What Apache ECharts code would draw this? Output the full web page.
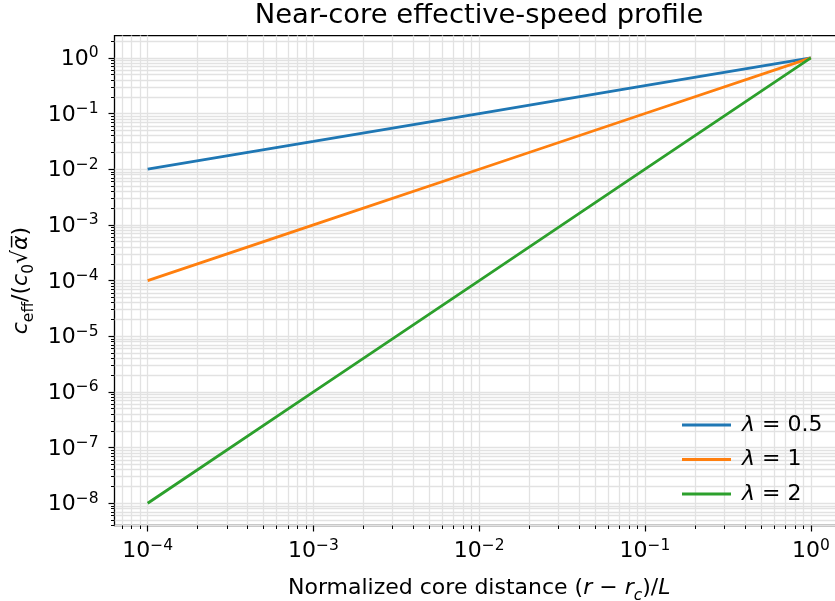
<!DOCTYPE html>
<html><head><meta charset="utf-8">
<script src="https://cdn.jsdelivr.net/npm/echarts@6/dist/echarts.min.js"></script>
<style>html,body{margin:0;padding:0;background:#fff}#c{width:835px;height:601px}</style>
</head><body><div id="c"></div>
<script>
// ---- data ----
const xValues = [1e-4, 1e-3, 1e-2, 1e-1, 1];
const yLambda05 = [1e-2, 3.16e-2, 1e-1, 3.16e-1, 1];
const yLambda1 = [1e-4, 1e-3, 1e-2, 1e-1, 1];
const yLambda2 = [1e-8, 1e-6, 1e-4, 1e-2, 1];
const seriesNames = ['λ = 0.5', 'λ = 1', 'λ = 2'];
const xTickExponents = [-4, -3, -2, -1, 0];
const yTickExponents = [-8, -7, -6, -5, -4, -3, -2, -1, 0];
const xExtentExp = [-4.2, 0.2];
const yExtentExp = [-8.4, 0.4];

const FONT = 'DejaVu Sans';
const colors = ['#1f77b4', '#ff7f0e', '#2ca02c'];
const gridColor = '#e2e2e2';

function minorExps(lo, hi) {
  const out = [];
  for (let e = Math.floor(lo) - 1; e <= Math.ceil(hi); e++)
    for (let k = 2; k <= 9; k++) {
      const v = e + Math.log10(k);
      if (v > lo && v < hi) out.push(v);
    }
  return out;
}
function pow10Label(v) {
  const e = Math.round(v);
  return '{b|10}{s|' + (e < 0 ? '\u2212' + (-e) : String(e)) + '}';
}
const labelRich = {
  b: { fontFamily: FONT, fontSize: 22, color: '#000', verticalAlign: 'bottom' },
  s: { fontFamily: FONT, fontSize: 15.5, color: '#000', verticalAlign: 'bottom', padding: [0, 0, 9, 0] }
};
const nameRich = {
  t: { fontFamily: FONT, fontSize: 22, color: '#000', verticalAlign: 'bottom', padding: [0, 0, 4, 0] },
  i: { fontFamily: FONT, fontSize: 22, fontStyle: 'italic', color: '#000', verticalAlign: 'bottom', padding: [0, 0, 4, 0] },
  sub: { fontFamily: FONT, fontSize: 15.5, color: '#000', verticalAlign: 'bottom', padding: [0, 0, 0, 0] },
  subi: { fontFamily: FONT, fontSize: 15.5, fontStyle: 'italic', color: '#000', verticalAlign: 'bottom', padding: [0, 0, 0, 0] }
};

function toLog(xs, ys) { return xs.map((x, i) => [Math.log10(x), Math.log10(ys[i])]); }

const xMinor = minorExps(xExtentExp[0], xExtentExp[1]);
const yMinor = minorExps(yExtentExp[0], yExtentExp[1]);

const chart = echarts.init(document.getElementById('c'), null, { renderer: 'canvas' });
const baseAxis = (ext) => ({ type: 'value', min: ext[0], max: ext[1], axisLine: { show: false, onZero: false } });

chart.setOption({
  animation: false,
  backgroundColor: '#fff',
  title: {
    text: 'Near-core effective-speed profile',
    left: 479, top: 2, padding: 0, textAlign: 'center',
    textStyle: { fontFamily: FONT, fontSize: 27.4, fontWeight: 'normal', color: '#000' }
  },
  grid: { left: 114.5, right: -9, top: 35.6, bottom: 75.5, show: true, borderColor: '#000', borderWidth: 1.3, backgroundColor: 'transparent', containLabel: false, outerBoundsMode: 'none' },
  legend: {
    orient: 'vertical', left: 677, top: 409, itemWidth: 49, itemHeight: 3, itemGap: 12.5, icon: 'rect',
    data: seriesNames,
    formatter: (n) => '{i|λ}{t| = ' + n.split('= ')[1] + '}',
    textStyle: {
      padding: [0, 0, 0, 6],
      rich: {
        i: { fontFamily: FONT, fontSize: 22, fontStyle: 'italic', color: '#000' },
        t: { fontFamily: FONT, fontSize: 22, color: '#000' }
      }
    }
  },
  xAxis: [
    Object.assign(baseAxis(xExtentExp), {
      position: 'bottom',
      axisTick: { show: true, customValues: xTickExponents, length: 6, lineStyle: { color: '#000', width: 1.2 } },
      axisLabel: { customValues: xTickExponents, formatter: pow10Label, margin: 12, rich: labelRich },
      splitLine: { show: true, lineStyle: { color: gridColor, width: 1.3 } },
      name: '{t|Normalized core distance (}{i|r}{t| \u2212 }{i|r}{subi|c}{t|)/}{i|L}',
      nameLocation: 'middle', nameGap: 52,
      nameTextStyle: { rich: nameRich }
    }),
    Object.assign(baseAxis(xExtentExp), {
      position: 'bottom',
      axisTick: { show: true, customValues: xMinor, length: 3.5, lineStyle: { color: '#000', width: 1 } },
      axisLabel: { show: false },
      splitLine: { show: true, lineStyle: { color: gridColor, width: 1.3 } }
    })
  ],
  yAxis: [
    Object.assign(baseAxis(yExtentExp), {
      position: 'left',
      axisTick: { show: true, customValues: yTickExponents, length: 6, lineStyle: { color: '#000', width: 1.2 } },
      axisLabel: { customValues: yTickExponents, formatter: pow10Label, margin: 16, rich: labelRich },
      splitLine: { show: true, lineStyle: { color: gridColor, width: 1.3 } },
      name: '{i|c}{sub|eff}{t|/(}{i|c}{sub|0}{t|\u221a}{i|\u03b1\u0305}{t|)}',
      nameLocation: 'middle', nameGap: 72, nameRotate: 90,
      nameTextStyle: { rich: nameRich }
    }),
    Object.assign(baseAxis(yExtentExp), {
      position: 'left',
      axisTick: { show: true, customValues: yMinor, length: 3.5, lineStyle: { color: '#000', width: 1 } },
      axisLabel: { show: false },
      splitLine: { show: true, lineStyle: { color: gridColor, width: 1.3 } }
    })
  ],
  series: [
    { name: seriesNames[0], type: 'line', data: toLog(xValues, yLambda05), showSymbol: false, symbol: 'none', lineStyle: { width: 2.8, color: colors[0] }, itemStyle: { color: colors[0] }, z: 3 },
    { name: seriesNames[1], type: 'line', data: toLog(xValues, yLambda1), showSymbol: false, symbol: 'none', lineStyle: { width: 2.8, color: colors[1] }, itemStyle: { color: colors[1] }, z: 3 },
    { name: seriesNames[2], type: 'line', data: toLog(xValues, yLambda2), showSymbol: false, symbol: 'none', lineStyle: { width: 2.8, color: colors[2] }, itemStyle: { color: colors[2] }, z: 3 }
  ]
});
</script></body></html>
